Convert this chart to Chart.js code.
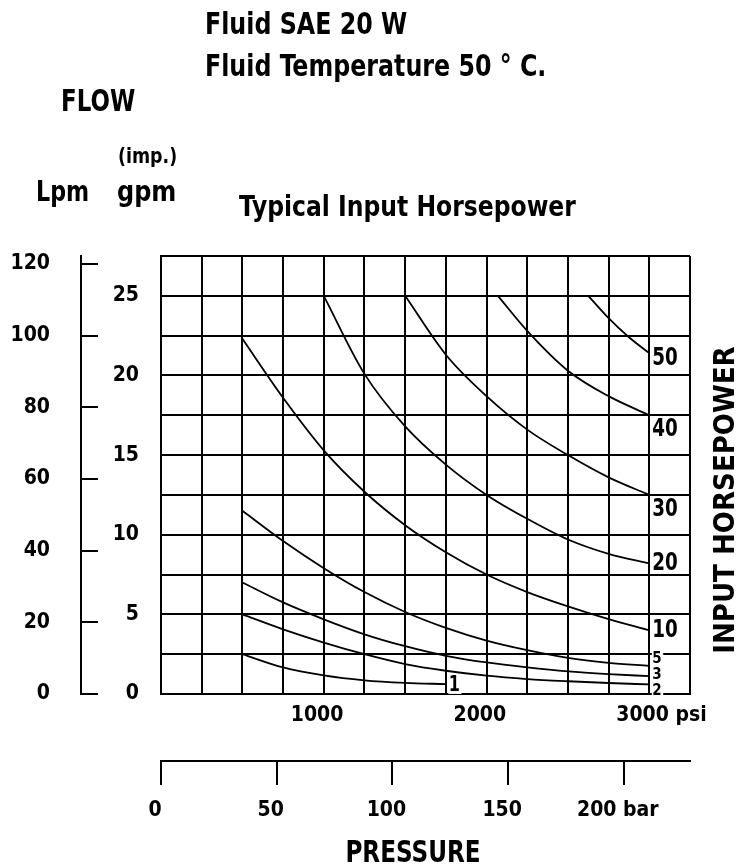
<!DOCTYPE html>
<html>
<head>
<meta charset="utf-8">
<script src="https://cdn.jsdelivr.net/npm/chart.js@4.4.1/dist/chart.umd.min.js"></script>
<style>
  html, body { margin: 0; padding: 0; background: #fff; }
</style>
</head>
<body>
<canvas id="hpChart" width="750" height="868"></canvas>
<script>
// ---- values ----
var psiTicks = [1000, 2000, 3000];
var barTicks = [0, 50, 100, 150, 200];
var gpmTicks = [0, 5, 10, 15, 20, 25];
var lpmTicks = [0, 20, 40, 60, 80, 100, 120];

var hpNames = ['1', '2', '3', '5', '10', '20', '30', '40', '50'];

var hp1Psi = [500, 750, 1000, 1250, 1500, 1750];
var hp1Gpm = [2.5, 1.67, 1.17, 0.86, 0.7, 0.62];
var hp2Psi = [500, 750, 1000, 1250, 1500, 1750, 2000, 2250, 2500, 2750, 3000];
var hp2Gpm = [5.0, 4.06, 3.23, 2.5, 1.88, 1.46, 1.15, 0.94, 0.8, 0.69, 0.6];
var hp3Psi = [500, 750, 1000, 1250, 1500, 1750, 2000, 2250, 2500, 2750, 3000];
var hp3Gpm = [7.0, 5.75, 4.69, 3.75, 3.0, 2.4, 1.98, 1.67, 1.42, 1.25, 1.12];
var hp5Psi = [500, 750, 1000, 1250, 1500, 1750, 2000, 2250, 2500, 2750, 3000];
var hp5Gpm = [11.5, 9.6, 7.9, 6.4, 5.15, 4.15, 3.35, 2.75, 2.27, 1.96, 1.76];
var hp10Psi = [500, 750, 1000, 1250, 1500, 1750, 2000, 2250, 2500, 2750, 3000];
var hp10Gpm = [22.3, 18.6, 15.3, 12.7, 10.6, 8.9, 7.5, 6.4, 5.5, 4.7, 4.0];
var hp20Psi = [1000, 1250, 1500, 1750, 2000, 2250, 2500, 2750, 3000];
var hp20Gpm = [25, 20.1, 16.8, 14.4, 12.5, 11.0, 9.7, 8.8, 8.2];
var hp30Psi = [1500, 1750, 2000, 2250, 2500, 2750, 3000];
var hp30Gpm = [25, 21.3, 18.7, 16.6, 15.0, 13.6, 12.5];
var hp40Psi = [2070, 2250, 2500, 2750, 3000];
var hp40Gpm = [25, 22.8, 20.3, 18.7, 17.5];
var hp50Psi = [2625, 2750, 2875, 3000];
var hp50Gpm = [25, 23.6, 22.4, 21.4];

var curvePsi = [hp1Psi, hp2Psi, hp3Psi, hp5Psi, hp10Psi, hp20Psi, hp30Psi, hp40Psi, hp50Psi];
var curveGpm = [hp1Gpm, hp2Gpm, hp3Gpm, hp5Gpm, hp10Gpm, hp20Gpm, hp30Gpm, hp40Gpm, hp50Gpm];

// ---- looks ----
var FONT = '"DejaVu Sans Condensed", "DejaVu Sans", sans-serif';
var tickFont = { family: FONT, size: 21, weight: 'bold' };
// where each curve's number sits, relative to the curve end (px)
var labelDy = [1, 7, -1, -7, 0, 0, 15, 14, 6];
var labelSize = [21, 15, 15, 15, 24, 24, 24, 24, 24];

var datasets = [];
for (var i = 0; i < hpNames.length; i++) {
    var pts = [];
    for (var j = 0; j < curvePsi[i].length; j++) {
        pts.push({ x: curvePsi[i][j], y: curveGpm[i][j] });
    }
    datasets.push({
        label: hpNames[i] + ' hp',
        data: pts,
        borderColor: '#000',
        borderWidth: 1.8,
        pointRadius: 0,
        fill: false,
        cubicInterpolationMode: 'monotone',
        xAxisID: 'x',
        yAxisID: 'y'
    });
}

// bold text, squeezed sideways by sx to look like the narrow face of the original
function txt(ctx, s, x, y, size, sx, align) {
    ctx.save();
    ctx.font = 'bold ' + size + 'px ' + FONT;
    ctx.textAlign = align || 'left';
    ctx.textBaseline = 'middle';
    ctx.fillStyle = '#000';
    ctx.translate(x, y);
    ctx.scale(sx, 1);
    ctx.fillText(s, 0, 0);
    ctx.restore();
}

// titles and curve numbers
var annotations = {
    id: 'annotations',
    afterDraw: function (chart) {
        var ctx = chart.ctx;
        var xs = chart.scales.x, ys = chart.scales.y;
        txt(ctx, 'Fluid SAE 20 W', 205, 26, 30, 0.88);
        txt(ctx, 'Fluid Temperature 50 \u00B0 C.', 205, 68, 30, 0.88);
        txt(ctx, 'FLOW', 61, 103, 30, 0.85);
        txt(ctx, '(imp.)', 118, 157, 22, 0.88);
        txt(ctx, 'Lpm', 36, 193, 29, 0.85);
        txt(ctx, 'gpm', 117, 193, 29, 0.92);
        txt(ctx, 'Typical Input Horsepower', 239, 208, 29, 0.9);
        txt(ctx, 'PRESSURE', 413, 854, 31, 0.83, 'center');

        ctx.save();
        ctx.translate(726, 500);
        ctx.rotate(-Math.PI / 2);
        txt(ctx, 'INPUT HORSEPOWER', 0, 0, 29, 1, 'center');
        ctx.restore();

        for (var i = 0; i < hpNames.length; i++) {
            var n = curvePsi[i].length - 1;
            var sx = labelSize[i] > 20 ? 0.85 : 1;
            var px = xs.getPixelForValue(curvePsi[i][n]) + 3;
            var py = ys.getPixelForValue(curveGpm[i][n]) + labelDy[i];
            ctx.font = 'bold ' + labelSize[i] + 'px ' + FONT;
            var w = ctx.measureText(hpNames[i]).width * sx;
            ctx.fillStyle = '#fff';
            ctx.fillRect(px - 0.5, py - labelSize[i] * 0.42, w + 2, labelSize[i] * 0.84);
            txt(ctx, hpNames[i], px, py, labelSize[i], sx);
        }
    }
};

new Chart(document.getElementById('hpChart'), {
    type: 'line',
    data: { datasets: datasets },
    plugins: [annotations],
    options: {
        responsive: false,
        animation: false,
        layout: { padding: { top: 256, right: 60, bottom: 0, left: 0 } },
        plugins: { legend: { display: false }, tooltip: { enabled: false } },
        scales: {
            x: {
                type: 'linear', position: 'bottom', min: 0, max: 3250, weight: 0,
                ticks: {
                    stepSize: 250, autoSkip: false, maxRotation: 0, align: 'start',
                    labelOffset: -33, padding: 9, color: '#000', font: tickFont,
                    callback: function (v) {
                        if (psiTicks.indexOf(v) < 0) return '';
                        return v === 3000 ? v + ' psi' : '' + v;
                    }
                },
                grid: { color: '#000', lineWidth: 2, drawTicks: false },
                border: { color: '#000', width: 2 },
                afterFit: function (s) { s.height = 67; }
            },
            xBar: {
                type: 'linear', position: 'bottom', min: 0, max: 228.6, weight: 1,
                ticks: {
                    stepSize: 50, includeBounds: false, autoSkip: false, maxRotation: 0,
                    labelOffset: -6, padding: 13, color: '#000', font: tickFont,
                    callback: function (v) {
                        if (barTicks.indexOf(v) < 0) return '';
                        return v === 200 ? v + ' bar' : '' + v;
                    }
                },
                grid: { drawOnChartArea: false, drawTicks: true, tickLength: 24, color: '#000', lineWidth: 2 },
                border: { color: '#000', width: 2 },
                afterFit: function (s) { s.height = 107; }
            },
            y: {
                type: 'linear', position: 'left', min: 0, max: 27.5, weight: 0,
                ticks: {
                    stepSize: 2.5, autoSkip: false, padding: 22, color: '#000', font: tickFont,
                    callback: function (v) { return gpmTicks.indexOf(v) < 0 ? '' : '' + v; }
                },
                grid: { color: '#000', lineWidth: 2, drawTicks: false },
                border: { color: '#000', width: 2 },
                afterFit: function (s) { s.width = 80; }
            },
            yLpm: {
                type: 'linear', position: 'left', min: 0, max: 122.2, weight: 1,
                ticks: {
                    stepSize: 20, includeBounds: false, autoSkip: false, padding: 48,
                    color: '#000', font: tickFont,
                    callback: function (v) { return lpmTicks.indexOf(v) < 0 ? '' : '' + v; }
                },
                grid: { drawOnChartArea: false, drawTicks: true, tickLength: -17, color: '#000', lineWidth: 2 },
                border: { color: '#000', width: 2 },
                afterFit: function (s) { s.width = 81; }
            }
        }
    }
});
</script>
</body>
</html>
